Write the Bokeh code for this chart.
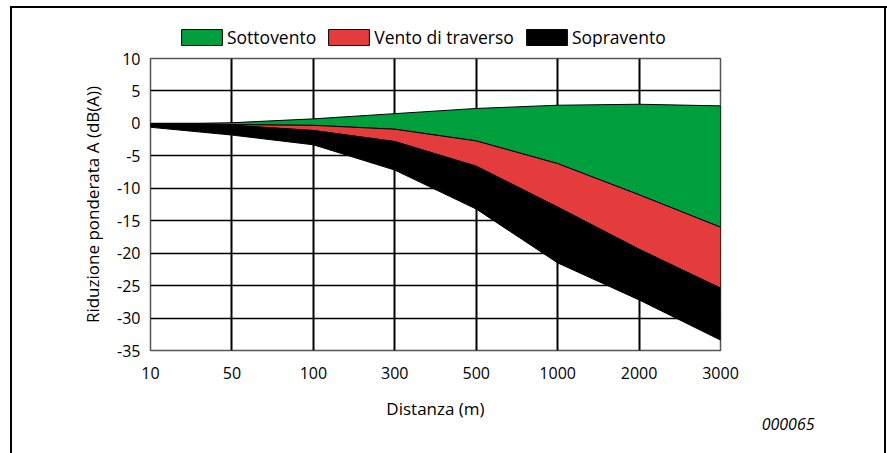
from bokeh.plotting import figure
from bokeh.layouts import column
from bokeh.models import Range1d, FixedTicker, Legend, LegendItem, Title
from bokeh.embed import file_html
from bokeh.resources import INLINE

# ---- data ----
distances = ["10", "50", "100", "300", "500", "1000", "2000", "3000"]
sotto_top = [-0.2, 0.1, 0.7, 1.5, 2.3, 2.8, 2.95, 2.7]
sotto_bottom = [-0.2, -0.2, -0.3, -0.9, -2.7, -6.2, -11.0, -16.0]
traverso_bottom = [-0.3, -0.3, -1.1, -2.8, -6.6, -12.9, -19.4, -25.4]
sopra_bottom = [-0.6, -1.8, -3.3, -7.2, -13.2, -21.5, -27.2, -33.4]
y_ticks = [10, 5, 0, -5, -10, -15, -20, -25, -30, -35]
y_tick_labels = ["10", "5", "0", "-5", "-10", "-15", "-20", "-25", "-30", "-35"]
series_names = ["Sottovento", "Vento di traverso", "Sopravento"]
colors = ["#009f3d", "#e43b3c", "#000000"]

FONT = "Open Sans"
idx = list(range(len(distances)))
bands = [(sotto_top, sotto_bottom), (sotto_bottom, traverso_bottom), (traverso_bottom, sopra_bottom)]

def poly(top, bottom):
    xs = idx + idx[::-1]
    ys = list(top) + list(bottom)[::-1]
    return xs, ys

def draw_bands(fig):
    rs = []
    for (top, bot), col in zip(bands, colors):
        xs, ys = poly(top, bot)
        rs.append(fig.patch(xs, ys, fill_color=col, line_color="black", line_width=1))
    return rs

# ---- legend strip (separate figure so the legend is not clipped) ----
lf = figure(width=887, height=47, output_backend="svg", toolbar_location=None,
            x_range=Range1d(100, 101), y_range=Range1d(100, 101),
            min_border_left=0, min_border_right=0, min_border_top=0, min_border_bottom=0,
            x_axis_type=None, y_axis_type=None)
lf.grid.visible = False
lf.outline_line_color = None
lf.background_fill_alpha = 0
lf.border_fill_alpha = 0
lrs = draw_bands(lf)
legend = Legend(items=[LegendItem(label=n, renderers=[r]) for n, r in zip(series_names, lrs)],
                orientation="horizontal", location=(26, -2))
legend.glyph_width = 51
legend.glyph_height = 20
legend.label_height = 20
legend.label_standoff = 0
legend.spacing = 7
legend.padding = 0
legend.margin = 0
legend.border_line_color = None
legend.background_fill_alpha = 0
legend.label_text_font = FONT
legend.label_text_font_size = "17.5px"
legend.label_text_color = "black"
lf.add_layout(legend, "center")

# ---- main chart ----
p = figure(width=887, height=406, output_backend="svg", toolbar_location=None,
           x_range=Range1d(0, len(distances) - 1), y_range=Range1d(-35, 10),
           min_border_left=150, min_border_right=167, min_border_top=11,
           min_border_bottom=103)
p.background_fill_color = "white"
p.border_fill_alpha = 0
p.outline_line_color = "#555555"
p.outline_line_width = 1.5
draw_bands(p)

p.xaxis.ticker = FixedTicker(ticks=idx)
p.xaxis.major_label_overrides = {i: d for i, d in zip(idx, distances)}
p.yaxis.ticker = FixedTicker(ticks=y_ticks)
p.yaxis.major_label_overrides = {t: s for t, s in zip(y_ticks, y_tick_labels)}
for ax in (p.xaxis[0], p.yaxis[0]):
    ax.axis_line_color = None
    ax.major_tick_line_color = None
    ax.minor_tick_line_color = None
    ax.major_label_text_font = FONT
    ax.major_label_text_font_size = "16px"
    ax.major_label_text_color = "black"
    ax.axis_label_text_font = FONT
    ax.axis_label_text_font_size = "17px"
    ax.axis_label_text_font_style = "normal"
    ax.axis_label_text_color = "black"
p.xaxis.major_label_standoff = 10
p.yaxis.major_label_standoff = 4
p.xaxis.axis_label = "Distanza (m)"
p.yaxis.axis_label = "Riduzione ponderata A (dB(A))"
p.xaxis.axis_label_standoff = 15
p.yaxis.axis_label_standoff = 10

p.xgrid.ticker = FixedTicker(ticks=idx)
p.ygrid.ticker = FixedTicker(ticks=y_ticks)
p.xgrid.grid_line_color = "black"
p.xgrid.grid_line_width = 2
p.ygrid.grid_line_color = "black"
p.ygrid.grid_line_width = 1.5

note = Title(text="000065", align="right", offset=-94, standoff=-10, vertical_align="top",
             text_font=FONT, text_font_size="16px", text_font_style="italic",
             text_color="black")
p.add_layout(note, "below")

page = column(lf, p, spacing=0)
page.styles = {
    "background": ("linear-gradient(#000,#000) 10px 6px / 2px 500px no-repeat, "
                   "linear-gradient(#000,#000) 10px 6px / 877px 2px no-repeat, "
                   "linear-gradient(#000,#000) 884px 6px / 2px 500px no-repeat, #ffffff")
}

open("out.html", "w").write(file_html(page, INLINE))
